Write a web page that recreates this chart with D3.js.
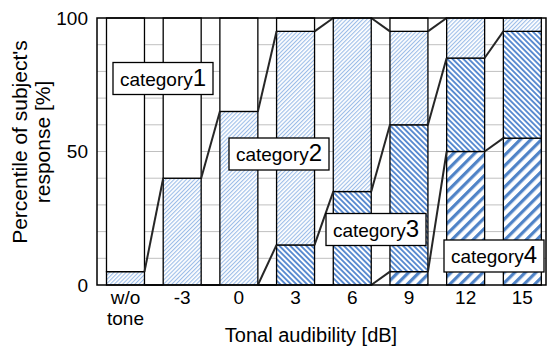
<!DOCTYPE html>
<html>
<head>
<meta charset="utf-8">
<script src="https://cdn.jsdelivr.net/npm/d3@7"></script>
<style>
  body { margin: 0; background: #fff; }
  text { font-family: "Liberation Sans", Arial, sans-serif; fill: #000; }
</style>
</head>
<body>
<svg id="chart" width="549" height="346"></svg>
<script>
// data, percent of responses per level (bottom to top: category4 .. category1)
const levels = ["w/o tone", "-3", "0", "3", "6", "9", "12", "15"]
const cat4 = [0, 0, 0, 0, 0, 5, 50, 55]
const cat3 = [0, 0, 0, 15, 35, 55, 35, 40]
const cat2 = [5, 40, 65, 80, 65, 35, 15, 5]
const cat1 = [95, 60, 35, 5, 0, 5, 0, 0]
const seriesNames = ["category4", "category3", "category2", "category1"]
const yTicks = [0, 50, 100]

const svg = d3.select("#chart")
const plotLeft = 97, plotRight = 546, plotTop = 18, plotBottom = 285

const x = d3.scaleBand().domain(levels).range([plotLeft, plotRight])
  .paddingInner(0.33).paddingOuter(0.125).align(0.67)
const y = d3.scaleLinear().domain([0, 100]).range([plotBottom, plotTop])

// hatch patterns
const defs = svg.append("defs")
function hatch(id, period, width, color, angle) {
  const p = defs.append("pattern")
    .attr("id", id)
    .attr("patternUnits", "userSpaceOnUse")
    .attr("width", period).attr("height", period)
    .attr("patternTransform", `rotate(${angle})`)
  p.append("rect").attr("width", period).attr("height", period).attr("fill", "#fff")
  p.append("rect").attr("width", width).attr("height", period).attr("fill", color)
}
hatch("h4", 7.5, 3.2, "#4f83c7", 45)
hatch("h3", 3.8, 1.9, "#5a8bd0", -45)
hatch("h2", 2.9, 1.1, "#9cbde8", 45)
const fills = { category4: "url(#h4)", category3: "url(#h3)", category2: "url(#h2)", category1: "#fff" }

// gridlines
svg.append("g")
  .selectAll("line")
  .data(d3.range(10, 100, 10))
  .enter()
  .append("line")
  .attr("x1", plotLeft).attr("x2", plotRight)
  .attr("y1", d => y(d)).attr("y2", d => y(d))
  .attr("stroke", "#c0c0c0")
  .attr("stroke-width", 1)

// stacked bars
const rows = levels.map((l, i) => ({ level: l, category4: cat4[i], category3: cat3[i], category2: cat2[i], category1: cat1[i] }))
const stacked = d3.stack().keys(seriesNames)(rows)

svg.append("g")
  .selectAll("g")
  .data(stacked)
  .enter()
  .append("g")
  .attr("fill", d => fills[d.key])
  .selectAll("rect")
  .data(d => d.filter(s => s[1] - s[0] > 0))
  .enter()
  .append("rect")
  .attr("x", d => x(d.data.level))
  .attr("width", x.bandwidth())
  .attr("y", d => y(d[1]))
  .attr("height", d => y(d[0]) - y(d[1]))
  .attr("stroke", "#000")
  .attr("stroke-width", 1.3)

// connector lines between neighbouring bars
const connectors = []
stacked.slice(0, 3).forEach(layer => {
  for (let i = 0; i < layer.length - 1; i++) {
    connectors.push({
      x1: x(levels[i]) + x.bandwidth(), y1: y(layer[i][1]),
      x2: x(levels[i + 1]), y2: y(layer[i + 1][1])
    })
  }
})
svg.append("g")
  .selectAll("line")
  .data(connectors)
  .enter()
  .append("line")
  .attr("x1", d => d.x1).attr("y1", d => d.y1)
  .attr("x2", d => d.x2).attr("y2", d => d.y2)
  .attr("stroke", "#262626")
  .attr("stroke-width", 2)

// frame
svg.append("rect")
  .attr("x", plotLeft).attr("y", plotTop)
  .attr("width", plotRight - plotLeft).attr("height", plotBottom - plotTop)
  .attr("fill", "none").attr("stroke", "#000").attr("stroke-width", 1.5)

// y tick labels
svg.append("g")
  .selectAll("text")
  .data(yTicks)
  .enter()
  .append("text")
  .attr("x", 88)
  .attr("y", d => y(d))
  .attr("dy", "0.35em")
  .attr("text-anchor", "end")
  .style("font-size", "19px")
  .text(d => d)

// x tick labels
const xl = svg.append("g")
  .selectAll("text")
  .data(levels)
  .enter()
  .append("text")
  .attr("x", d => x(d) + x.bandwidth() / 2)
  .attr("y", 304)
  .attr("text-anchor", "middle")
  .style("font-size", "19px")
xl.each(function(d) {
  const parts = d === "w/o tone" ? ["w/o", "tone"] : [d]
  d3.select(this).selectAll("tspan")
    .data(parts)
    .enter()
    .append("tspan")
    .attr("x", x(d) + x.bandwidth() / 2)
    .attr("dy", (p, j) => j === 0 ? 0 : "1.1em")
    .text(p => p)
})

// axis titles
svg.append("text")
  .attr("x", 311)
  .attr("y", 342)
  .attr("text-anchor", "middle")
  .style("font-size", "20px")
  .text("Tonal audibility [dB]")

const yt = svg.append("text")
  .attr("transform", "translate(27,142) rotate(-90)")
  .attr("text-anchor", "middle")
  .style("font-size", "21px")
yt.append("tspan").attr("x", 0).attr("dy", 0).text("Percentile of subject's")
yt.append("tspan").attr("x", 0).attr("dy", "1.1em").text("response [%]")

// category labels in boxes
const labelSpots = [
  { name: "category1", cx: 163, cy: 78.5 },
  { name: "category2", cx: 279, cy: 154 },
  { name: "category3", cx: 376, cy: 229.5 },
  { name: "category4", cx: 494, cy: 256 }
]
const lg = svg.append("g")
  .selectAll("g")
  .data(labelSpots)
  .enter()
  .append("g")
lg.append("rect")
  .attr("x", d => d.cx - 50).attr("y", d => d.cy - 16)
  .attr("width", 100).attr("height", 32)
  .attr("fill", "#fff").attr("stroke", "#000").attr("stroke-width", 1.3)
const lt = lg.append("text")
  .attr("x", d => d.cx)
  .attr("y", d => d.cy + 7)
  .attr("text-anchor", "middle")
lt.append("tspan").style("font-size", "19px").text(d => d.name.slice(0, -1))
lt.append("tspan").style("font-size", "24px").text(d => d.name.slice(-1))
</script>
</body>
</html>
